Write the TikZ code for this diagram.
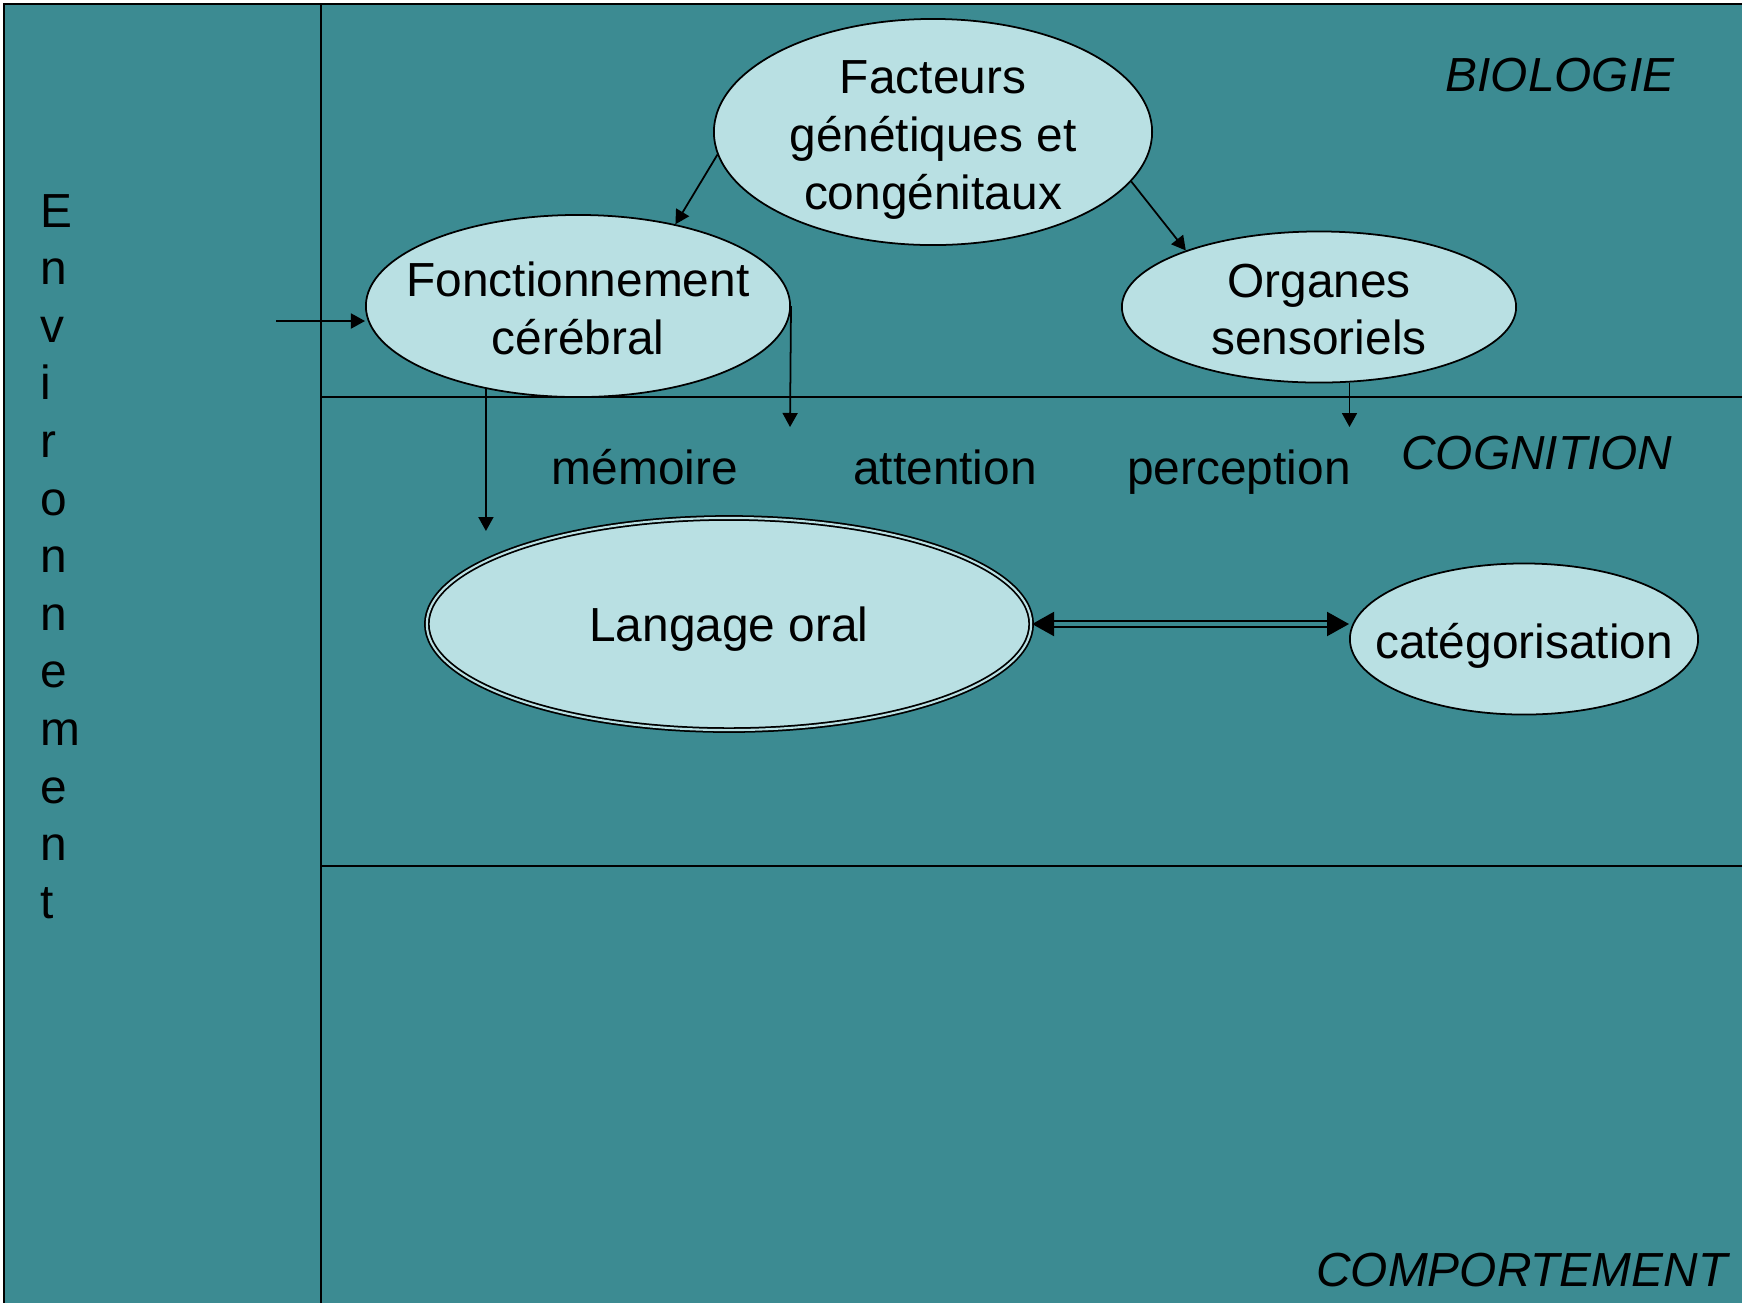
\documentclass[tikz,border=0pt]{standalone}
\usepackage{fontspec}
\setmainfont{Liberation Sans}
\usetikzlibrary{shapes.geometric,arrows.meta}
\definecolor{sarcelle}{RGB}{60,139,146}
\definecolor{bulleclair}{RGB}{185,224,227}
\tikzset{
  bulle/.style={ellipse, draw, fill=bulleclair, line width=0.5pt, inner sep=-0.4cm, align=center},
  fleche/.style={-{Triangle[length=0.14cm,width=0.15cm]}, line width=0.5pt},
  domaine/.style={font=\fontsize{13.6pt}{16.4pt}\selectfont\itshape, inner sep=0pt, anchor=base east},
  mot/.style={inner sep=0pt, anchor=base}
}
\begin{document}
\begin{tikzpicture}[x=0.01cm, y=-0.01cm, font=\fontsize{13.6pt}{16.4pt}\selectfont]
  \useasboundingbox (0,0) rectangle (1742,1302);
  \fill[white] (0,0) rectangle (1742,1302);
  \draw[fill=sarcelle, line width=0.5pt] (4,4) rectangle (1760,1320);
  \draw[line width=0.5pt] (321,4) -- (321,1320);
  \draw[line width=0.5pt] (321,397) -- (1760,397);
  \draw[line width=0.5pt] (321,866) -- (1760,866);

  % environnement, lettre par lettre
  \foreach \lettre [count=\i from 0] in {E,n,v,i,r,o,n,n,e,m,e,n,t}
    \node[inner sep=0pt, anchor=base west] (env\i) at (40,{227+57.6*\i}) {\lettre};

  \node[domaine] (biologie) at (1675,91) {BIOLOGIE};
  \node[domaine] (cognition) at (1673,469) {COGNITION};
  \node[domaine] (comportement) at (1728,1286) {COMPORTEMENT};

  \node[bulle, minimum width=4.38cm, minimum height=2.26cm, text height=1.64cm, text depth=0.1cm] (facteurs) at (933,132) {Facteurs\\génétiques et\\congénitaux};
  \node[bulle, minimum width=4.24cm, minimum height=1.82cm, text height=0.97cm, text depth=0cm] (fonct) at (578,306) {Fonctionnement\\cérébral};
  \node[bulle, minimum width=3.94cm, minimum height=1.51cm, text height=0.957cm, text depth=0cm] (organes) at (1319,307) {Organes\\sensoriels};
  \node[bulle, double=bulleclair, double distance=0.6pt, minimum width=6.04cm, minimum height=2.12cm, text height=0.456cm, text depth=0.1cm] (langage) at (729,624) {Langage oral};
  \node[bulle, minimum width=3.48cm, minimum height=1.51cm, text height=0.483cm, text depth=0.1cm] (categ) at (1524,639) {catégorisation};

  \node[mot] (memoire) at (645,484) {mémoire};
  \node[mot] (attention) at (945,484) {attention};
  \node[mot] (perception) at (1239,484) {perception};

  \coordinate (envsortie) at (276,321);
  \coordinate (attbout) at (790,427);
  \coordinate (membout) at (488,531);
  \coordinate (percbout) at (1350,427);

  \draw[fleche] (facteurs.186) -- (fonct.40);
  \draw[fleche] (facteurs.346) -- (organes.157);
  \draw[fleche] (envsortie) -- (envsortie -| fonct.west);
  \draw[fleche] (fonct.east) -- (attbout);
  \draw[fleche] (fonct.222) -- (fonct.222 |- membout);
  \draw[fleche] (organes.292) -- (organes.292 |- percbout);

  \draw[line width=0.6pt, double=sarcelle, double distance=1.2pt,
    {Triangle[length=0.22cm,width=0.24cm]}-{Triangle[length=0.22cm,width=0.24cm]}]
    (langage.east) -- (langage.east -| categ.west);
\end{tikzpicture}
\end{document}
